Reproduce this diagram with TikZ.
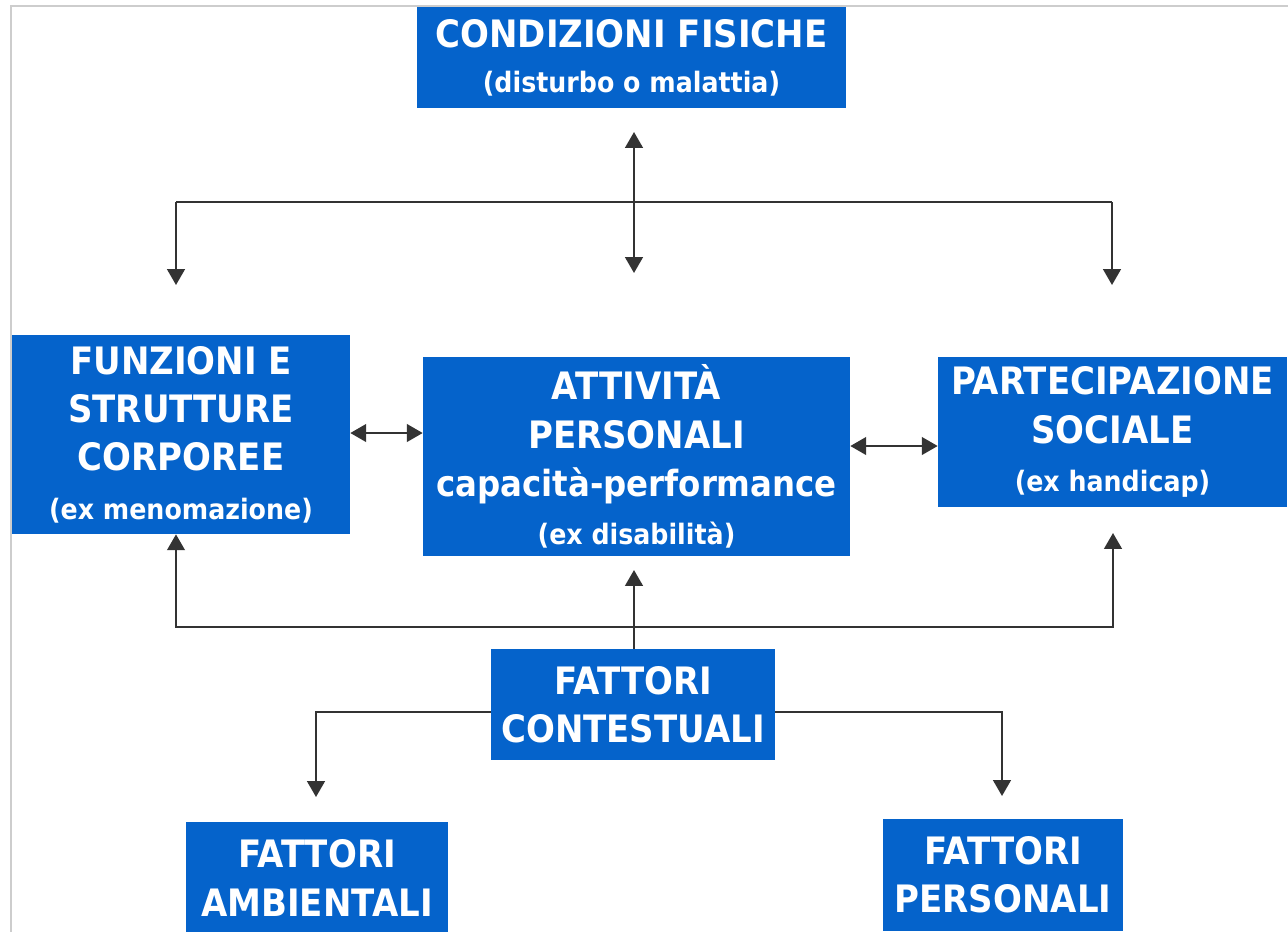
\documentclass[tikz,border=0pt]{standalone}
\usepackage{fontspec}
\setmainfont[FakeStretch=0.9]{DejaVu Sans}
\definecolor{IcfBlue}{HTML}{0563CB}
\definecolor{FrameGray}{HTML}{CDCDCD}
\usepackage{tikz}
\usetikzlibrary{positioning, arrows.meta, calc}

\newcommand{\subtxt}[1]{{\fontsize{16}{22}\selectfont #1}}

\begin{document}
\begin{tikzpicture}[
  x=0.02cm, y=-0.02cm,
  box/.style={
    fill=IcfBlue, text=white, inner sep=0pt, align=center,
    font=\fontsize{21.5}{27.5}\selectfont\bfseries
  },
  conn/.style={line width=1.3pt, black!80},
  arrow/.style={conn, -{Triangle[length=9pt, width=10pt]}},
  biarrow/.style={conn, {Triangle[length=9pt, width=10pt]}-{Triangle[length=9pt, width=10pt]}}
]
  \useasboundingbox (0,0) rectangle (1288,931);
  \clip (0,0) rectangle (1288,931);
  \fill[white] (0,0) rectangle (1288,931);
  \draw[FrameGray, line width=1.2pt] (11,935) -- (11,6) -- (1290,6);

  \node[box, minimum width=8.58cm, minimum height=2.02cm] (cond) at (631.5,57.5) {%
    CONDIZIONI FISICHE\\[-2pt]\subtxt{(disturbo o malattia)}};
  \node[box, minimum width=6.76cm, minimum height=3.98cm] (funz) at (181,434.5) {%
    FUNZIONI E\\STRUTTURE\\CORPOREE\\\subtxt{(ex menomazione)}};
  \node[box, minimum width=8.54cm, minimum height=3.98cm] (att) at (636.5,456.5) {%
    ATTIVITÀ\\PERSONALI\\{\fontsize{20.5}{27.5}\selectfont capacità-performance}\\\subtxt{(ex disabilità)}};
  \node[box, minimum width=6.98cm, minimum height=3.0cm] (part) at (1112.5,432) {%
    PARTECIPAZIONE\\SOCIALE\\\subtxt{(ex handicap)}};
  \node[box, minimum width=5.68cm, minimum height=2.22cm] (ctx) at (633,704.5) {%
    FATTORI\\CONTESTUALI};
  \node[box, minimum width=5.24cm, minimum height=2.24cm] (amb) at (317,878) {%
    FATTORI\\AMBIENTALI};
  \node[box, minimum width=4.8cm, minimum height=2.24cm] (pers) at (1003,875) {%
    FATTORI\\PERSONALI};

  % top branch
  \coordinate (tU) at (634,132);
  \coordinate (tD) at (634,273);
  \coordinate (tL) at (176,202);
  \coordinate (tR) at (1112,202);
  \coordinate (tLd) at (176,285);
  \coordinate (tRd) at (1112,285);
  \draw[conn] (tL) -- (tR);
  \draw[arrow] (tL) -- (tLd);
  \draw[arrow] (tR) -- (tRd);
  \draw[biarrow] (tU) -- (tD);

  % middle row
  \coordinate (fa) at (388,433);
  \coordinate (ap) at (894,446);
  \draw[biarrow] (funz.east |- fa) -- (att.west |- fa);
  \draw[biarrow] (att.east |- ap) -- (part.west |- ap);

  % bottom branch
  \coordinate (bM) at (634,627);
  \coordinate (bL) at (176,627);
  \coordinate (bRu) at (1113,533);
  \coordinate (aUp) at (634,570);
  \draw[arrow] (bM) -| (bL |- funz.south);
  \draw[arrow] (bM) -| (bRu);
  \draw[arrow] (bM |- ctx.north) -- (aUp);

  % contextual factors
  \coordinate (cL) at (316,712);
  \coordinate (cLd) at (316,797);
  \coordinate (cR) at (1002,712);
  \coordinate (cRd) at (1002,796);
  \draw[arrow] (ctx.west |- cL) -| (cLd);
  \draw[arrow] (ctx.east |- cR) -| (cRd);
\end{tikzpicture}
\end{document}
